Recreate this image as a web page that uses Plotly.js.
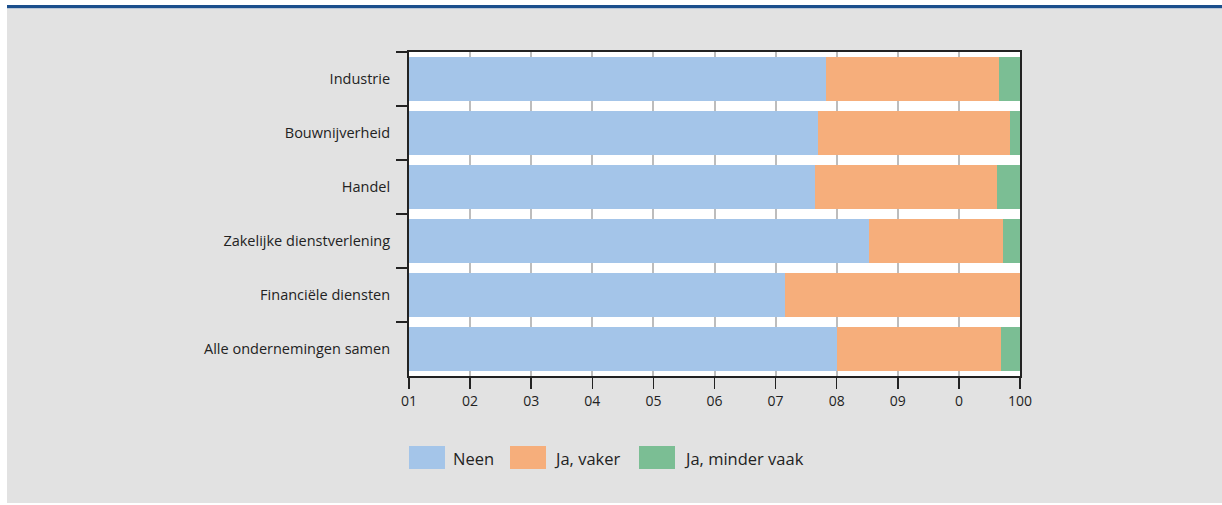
<!DOCTYPE html>
<html>
<head>
<meta charset="utf-8">
<script src="https://cdn.plot.ly/plotly-3.0.1.min.js"></script>
<style>
  html, body { margin:0; padding:0; width:1222px; height:505px; overflow:hidden; background:#ffffff; }
  #panel { position:absolute; left:7px; top:8px; right:0; bottom:2px; background:#e2e2e2; }
  #topline { position:absolute; left:7px; top:5px; right:0; height:3px; background:#1b4f8c; }
  #topline2 { position:absolute; left:7px; top:8px; right:0; height:1px; background:#b9c6d6; }
  #chart { position:absolute; left:0; top:0; width:1222px; height:505px; }
</style>
</head>
<body>
<div id="panel"></div>
<div id="topline"></div>
<div id="topline2"></div>
<div id="chart"></div>
<script>
const categories = ["Industrie", "Bouwnijverheid", "Handel", "Zakelijke dienstverlening", "Financiële diensten", "Alle ondernemingen samen"];
const seriesNames = ["Neen", "Ja, vaker", "Ja, minder vaak"];
const neen = [68.2, 66.9, 66.4, 75.3, 61.5, 70.1];
const jaVaker = [28.4, 31.5, 29.8, 21.9, 38.5, 26.8];
const jaMinderVaak = [3.4, 1.6, 3.8, 2.8, 0.0, 3.1];
const xTickVals = [0, 10, 20, 30, 40, 50, 60, 70, 80, 90, 100];
const xTickText = ["01", "02", "03", "04", "05", "06", "07", "08", "09", "0", "100"];
const colors = ["#a4c5e9", "#f6ae7b", "#7bbe94"];

const seriesValues = [neen, jaVaker, jaMinderVaak];
const data = seriesValues.map((vals, i) => ({
  type: "bar",
  orientation: "h",
  name: seriesNames[i],
  y: categories,
  x: vals,
  marker: { color: colors[i], line: { width: 0 } },
  hoverinfo: "x+y+name"
}));

const font = { family: "Open Sans, Noto Sans, sans-serif", size: 14, color: "#222222" };

// custom legend (swatches + labels) in paper coordinates
const plotL = 409, plotR = 1020, plotT = 52, plotB = 376;
const pxX = px => (px - plotL) / (plotR - plotL);
const pxY = py => (plotB - py) / (plotB - plotT);
const legendItems = [
  { x0: 409, tx: 451 },
  { x0: 510, tx: 552 },
  { x0: 639, tx: 682 }
];
const shapes = [];
const annotations = [];
legendItems.forEach((it, i) => {
  shapes.push({
    type: "rect", xref: "paper", yref: "paper",
    x0: pxX(it.x0), x1: pxX(it.x0 + 36),
    y0: pxY(446), y1: pxY(469),
    fillcolor: colors[i], line: { width: 0 }
  });
  annotations.push({
    xref: "paper", yref: "paper",
    x: pxX(it.tx), y: pxY(458),
    xanchor: "left", yanchor: "middle",
    text: seriesNames[i], showarrow: false,
    font: { family: font.family, size: 16.5, color: "#222222" }
  });
});

const layout = {
  width: 1222, height: 505,
  margin: { l: plotL, r: 1222 - plotR, t: plotT, b: 505 - plotB, pad: 0 },
  paper_bgcolor: "rgba(0,0,0,0)",
  plot_bgcolor: "#ffffff",
  barmode: "stack",
  bargap: 0.17,
  showlegend: false,
  font: font,
  xaxis: {
    range: [0, 100],
    tickvals: xTickVals,
    ticktext: xTickText,
    ticks: "outside", ticklen: 11, tickwidth: 1.5, tickcolor: "#222222",
    showgrid: true, gridcolor: "#bdbdbd", gridwidth: 2,
    showline: true, linecolor: "#222222", linewidth: 2, mirror: true,
    zeroline: false,
    tickfont: { family: font.family, size: 14, color: "#222222" },
    fixedrange: true
  },
  yaxis: {
    type: "category",
    autorange: "reversed",
    tickson: "boundaries",
    ticks: "outside", ticklen: 11, tickwidth: 1.5, tickcolor: "#222222",
    showgrid: false,
    showline: true, linecolor: "#222222", linewidth: 2, mirror: true,
    zeroline: false,
    ticklabelstandoff: 14,
    tickfont: { family: font.family, size: 14.5, color: "#222222" },
    fixedrange: true
  },
  shapes: shapes,
  annotations: annotations
};

Plotly.newPlot("chart", data, layout, { displayModeBar: false, staticPlot: true });
</script>
</body>
</html>
